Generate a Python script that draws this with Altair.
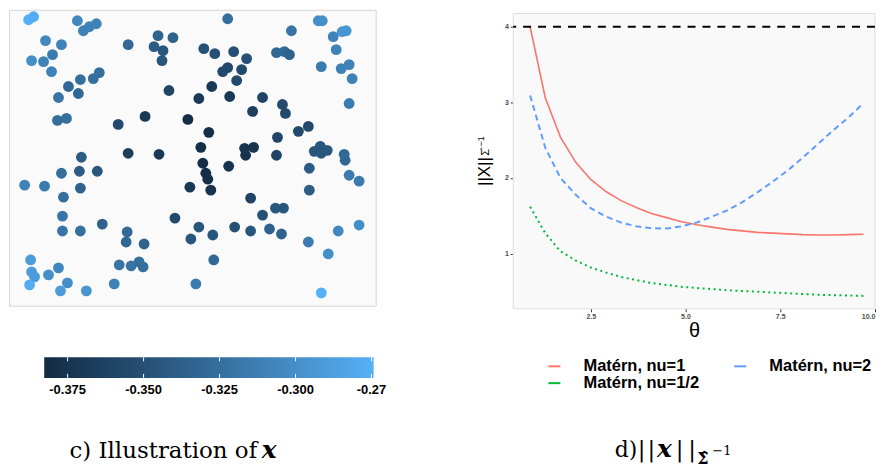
import altair as alt
import pandas as pd

# ---------------- panel c: locations (figure pixels) and value of x ----------------
pt_x = [28, 33, 77, 83, 89, 96, 45, 61, 52, 31, 43, 51, 80, 93, 99, 68, 58, 78, 57, 66,
        128, 158, 154, 163, 162, 173, 228, 204, 215, 234, 247, 223, 228, 242, 237,
        169, 212, 199, 230, 263, 253, 277, 285, 290, 292, 319, 323, 334, 343, 347,
        337, 322, 342, 350, 353, 350, 283, 286, 118, 145, 188, 209, 201, 245, 254, 246,
        278, 299, 309, 277, 315, 321, 328, 322, 345, 346, 128, 159, 203, 206, 208, 229,
        190, 211, 251, 310, 310, 350, 360, 81, 61, 79, 97, 24, 44, 80, 63, 62, 62, 80,
        102, 127, 126, 144, 175, 199, 213, 191, 235, 251, 263, 276, 284, 270, 282, 309,
        339, 360, 329, 214, 119, 131, 139, 143, 114, 196, 86, 322, 30, 31, 34, 29, 48,
        58, 67, 60]
pt_y = [18, 15, 19, 29, 25, 22, 39, 43, 53, 59, 60, 70, 78, 77, 71, 85, 96, 92, 119, 117,
        43, 34, 45, 49, 59, 36, 17, 47, 52, 50, 57, 70, 66, 68, 79,
        89, 85, 97, 95, 96, 110, 51, 50, 53, 29, 19, 19, 35, 30, 29,
        48, 65, 67, 63, 77, 102, 103, 112, 123, 115, 118, 131, 146, 147, 146, 154,
        136, 130, 125, 154, 150, 145, 149, 152, 153, 159, 152, 153, 162, 172, 178, 165,
        186, 189, 197, 167, 189, 174, 180, 156, 172, 170, 170, 184, 185, 187, 196, 215, 230, 230,
        223, 231, 241, 243, 217, 226, 234, 238, 226, 230, 214, 207, 207, 228, 233, 241,
        230, 224, 253, 259, 264, 265, 261, 266, 283, 283, 290, 292, 259, 271, 276, 284, 274,
        267, 282, 290]
pt_val = [-0.276, -0.277, -0.305, -0.31, -0.31, -0.31, -0.305, -0.31, -0.315, -0.30, -0.31,
          -0.31, -0.325, -0.325, -0.325, -0.33, -0.32, -0.33, -0.325, -0.325,
          -0.33, -0.335, -0.34, -0.345, -0.345, -0.335, -0.325, -0.35, -0.35, -0.35, -0.35,
          -0.355, -0.355, -0.355, -0.355,
          -0.36, -0.37, -0.37, -0.37, -0.36, -0.365, -0.33, -0.33, -0.335, -0.32, -0.30, -0.30,
          -0.31, -0.295, -0.295,
          -0.31, -0.315, -0.31, -0.31, -0.31, -0.315, -0.355, -0.355, -0.355, -0.37, -0.38,
          -0.38, -0.38, -0.375, -0.375, -0.375,
          -0.36, -0.355, -0.355, -0.36, -0.345, -0.345, -0.345, -0.345, -0.33, -0.33, -0.365,
          -0.37, -0.38, -0.38, -0.38, -0.375,
          -0.37, -0.375, -0.36, -0.34, -0.34, -0.315, -0.315, -0.34, -0.325, -0.34, -0.345,
          -0.31, -0.315, -0.335, -0.325, -0.32, -0.32, -0.325,
          -0.335, -0.33, -0.33, -0.335, -0.355, -0.345, -0.345, -0.345, -0.35, -0.345, -0.35,
          -0.345, -0.345, -0.335, -0.335, -0.315,
          -0.305, -0.30, -0.30, -0.33, -0.32, -0.32, -0.325, -0.325, -0.31, -0.315, -0.295,
          -0.275, -0.29, -0.29, -0.29, -0.278, -0.30,
          -0.305, -0.30, -0.29]

color_limits = [-0.3827, -0.2743]
color_range = ["#132B43", "#56B1F7"]
bar_ticks = [-0.375, -0.35, -0.325, -0.3, -0.275]
bar_labels = ["-0.375", "-0.350", "-0.325", "-0.300", "-0.27"]

# ---------------- panel d ----------------
theta = [0.9, 1.3, 1.7, 2.1, 2.5, 2.9, 3.3, 3.7, 4.1, 4.5, 4.9, 5.3, 5.7, 6.1, 6.5, 6.9,
         7.3, 7.7, 8.1, 8.5, 8.9, 9.3, 9.7]
nu1 = [4.0, 3.06, 2.54, 2.21, 1.98, 1.82, 1.70, 1.61, 1.53, 1.475, 1.42, 1.38, 1.35, 1.32,
       1.30, 1.28, 1.27, 1.26, 1.25, 1.245, 1.245, 1.25, 1.255]
nu2 = [3.09, 2.40, 2.00, 1.78, 1.60, 1.49, 1.41, 1.36, 1.335, 1.33, 1.36, 1.41, 1.49, 1.57,
       1.68, 1.81, 1.95, 2.10, 2.27, 2.45, 2.63, 2.80, 2.99]
nu_half = [1.62, 1.27, 1.03, 0.91, 0.815, 0.75, 0.69, 0.65, 0.61, 0.585, 0.56, 0.545, 0.53,
           0.515, 0.505, 0.495, 0.485, 0.475, 0.465, 0.455, 0.45, 0.445, 0.44]
series_names = ["Matérn, nu=1", "Matérn, nu=1/2", "Matérn, nu=2"]
series_colors = ["#F8766D", "#00BA38", "#619CFF"]
bound_value = [4]
x_ticks = [2.5, 5.0, 7.5, 10.0]
y_ticks = [1, 2, 3, 4]


# ---------------- colour helper (Lab ramp for the colour bar) ----------------
def _lab_ramp(c0, c1, n=11):
    def to_lin(v):
        v = v / 255
        return v / 12.92 if v <= 0.04045 else ((v + 0.055) / 1.055) ** 2.4

    def from_lin(v):
        v = 12.92 * v if v <= 0.0031308 else 1.055 * v ** (1 / 2.4) - 0.055
        return max(0, min(255, round(v * 255)))

    wn = (0.95047, 1.0, 1.08883)
    d = 6 / 29

    def f(t):
        return t ** (1 / 3) if t > d ** 3 else t / (3 * d * d) + 4 / 29

    def finv(t):
        return t ** 3 if t > d else 3 * d * d * (t - 4 / 29)

    def hex2lab(h):
        r, g, b = (to_lin(int(h[i:i + 2], 16)) for i in (1, 3, 5))
        X = (0.4124 * r + 0.3576 * g + 0.1805 * b) / wn[0]
        Y = (0.2126 * r + 0.7152 * g + 0.0722 * b) / wn[1]
        Z = (0.0193 * r + 0.1192 * g + 0.9505 * b) / wn[2]
        return 116 * f(Y) - 16, 500 * (f(X) - f(Y)), 200 * (f(Y) - f(Z))

    def lab2hex(L, a, b):
        fy = (L + 16) / 116
        X, Y, Z = finv(fy + a / 500) * wn[0], finv(fy) * wn[1], finv(fy - b / 200) * wn[2]
        r = 3.2406 * X - 1.5372 * Y - 0.4986 * Z
        g = -0.9689 * X + 1.8758 * Y + 0.0415 * Z
        bb = 0.0557 * X - 0.2040 * Y + 1.0570 * Z
        return "#%02x%02x%02x" % (from_lin(r), from_lin(g), from_lin(bb))

    l0, l1 = hex2lab(c0), hex2lab(c1)
    out = []
    for i in range(n):
        t = i / (n - 1)
        out.append((t, lab2hex(*[a + (b - a) * t for a, b in zip(l0, l1)])))
    return out


SANS = "Liberation Sans"
SERIF = "DejaVu Serif"


def txt(t, x, y, size, font=SANS, angle=0, align="center", baseline="middle",
        weight="normal", style="normal"):
    return alt.Chart(pd.DataFrame({"t": [t]})).mark_text(
        font=font, fontSize=size, angle=angle, align=align, baseline=baseline,
        fontWeight=weight, fontStyle=style, color="black").encode(
        text="t:N", x=alt.value(x), y=alt.value(y))


# ---------------- panel c: scatter + colour bar ----------------
pts = pd.DataFrame({"px": pt_x, "py": pt_y, "val": pt_val})
scatter = alt.Chart(pts).mark_circle(size=118, opacity=1).encode(
    x=alt.X("px:Q", scale=alt.Scale(domain=[8.3, 376.7], nice=False, zero=False), axis=None),
    y=alt.Y("py:Q", scale=alt.Scale(domain=[8, 305], reverse=True, nice=False, zero=False), axis=None),
    color=alt.Color("val:Q", scale=alt.Scale(domain=color_limits, range=color_range,
                                             interpolate="lab"), legend=None),
)

grad = alt.LinearGradient(
    gradient="linear",
    stops=[alt.GradientStop(color=c, offset=o) for o, c in _lab_ramp(*color_range)],
    x1=0, x2=1, y1=0, y2=0)
bar_scale = alt.Scale(domain=[-0.3943, -0.2736], nice=False, zero=False)
bar_df = pd.DataFrame({"lo": [color_limits[0]], "hi": [color_limits[1]]})
bar_rect = alt.Chart(bar_df).mark_rect(fill=grad).encode(
    x=alt.X("lo:Q", scale=bar_scale, axis=None), x2="hi:Q",
    y=alt.value(348.7), y2=alt.value(369.4))
tick_df = pd.DataFrame({"v": bar_ticks, "lab": bar_labels})
ticks_top = alt.Chart(tick_df).mark_rule(color="white", strokeWidth=1).encode(
    x=alt.X("v:Q", scale=bar_scale, axis=None), y=alt.value(348.7), y2=alt.value(352.7))
ticks_bot = alt.Chart(tick_df).mark_rule(color="white", strokeWidth=1).encode(
    x=alt.X("v:Q", scale=bar_scale, axis=None), y=alt.value(365.4), y2=alt.value(369.4))
bar_text = alt.Chart(tick_df).mark_text(
    font=SANS, fontSize=13, fontWeight="bold", color="black", baseline="middle").encode(
    x=alt.X("v:Q", scale=bar_scale, axis=None), y=alt.value(381.3), text="lab:N")

cap_c = [
    txt("c) Illustration of", 249, 449.3, 23, font=SERIF, align="right", baseline="alphabetic"),
    txt("x", 253.7, 449.3, 25, font=SERIF, align="left", baseline="alphabetic",
        weight="bold", style="italic"),
]

left = alt.layer(scatter, bar_rect, ticks_top, ticks_bot, bar_text, *cap_c).resolve_scale(
    x="independent").properties(
    width=368, height=297, view=alt.ViewBackground(fill="#fafafa", stroke="#d6d6d6"))

# ---------------- panel d: lines ----------------
long = pd.DataFrame({
    "theta": theta * 3,
    "value": nu1 + nu_half + nu2,
    "series": [series_names[0]] * len(theta) + [series_names[1]] * len(theta)
              + [series_names[2]] * len(theta),
})
xs = alt.Scale(domain=[0.455, 10.0], nice=False, zero=False)
ys = alt.Scale(domain=[0.27, 4.2238], nice=False, zero=False)
cs = alt.Scale(domain=series_names, range=series_colors)
x_axis = alt.Axis(values=x_ticks, format=".1f", title="θ",
                  titleFont=SANS, titleFontSize=20, titleFontWeight="normal", titleColor="black",
                  titlePadding=1, labelFont=SANS, labelFontSize=7, labelColor="#4d4d4d",
                  labelFontWeight="bold", tickColor="#333333", tickSize=3, labelPadding=1,
                  domain=False, grid=False, labelFlush=True)
y_axis = alt.Axis(values=y_ticks, format="d", title=None,
                  labelFont=SANS, labelFontSize=7, labelColor="#4d4d4d", labelFontWeight="bold",
                  tickColor="#333333", tickSize=3, labelPadding=2, domain=False, grid=False,
                  labelFlush=False)
legend = alt.Legend(orient="none", legendX=33, legendY=349.4, columns=2, title=None,
                    symbolType="stroke", symbolSize=144, symbolStrokeWidth=2,
                    labelFont=SANS, labelFontSize=16.5, labelFontWeight="bold", labelColor="black",
                    labelOffset=21, columnPadding=30.5, rowPadding=0, padding=0)

# panel background (the plot area starts a few pixels below the group top)
panel = alt.Chart(pd.DataFrame({"x0": [0.455], "x1": [10.0], "y0": [0.27], "y1": [4.175]})).mark_rect(
    fill="#f9f9f9", stroke="#dedede", strokeWidth=1).encode(
    x=alt.X("x0:Q", scale=xs, axis=x_axis), x2="x1:Q",
    y=alt.Y("y0:Q", scale=ys, axis=y_axis), y2="y1:Q")


def line_layer(name, width, dash=None):
    kw = {"strokeWidth": width}
    if dash is not None:
        kw["strokeDash"] = dash
    return alt.Chart(long).transform_filter(alt.datum.series == name).mark_line(**kw).encode(
        x=alt.X("theta:Q", scale=xs, axis=x_axis),
        y=alt.Y("value:Q", scale=ys, axis=y_axis),
        color=alt.Color("series:N", scale=cs, legend=legend),
    )


red = line_layer(series_names[0], 1.6)
green = line_layer(series_names[1], 2, [2, 3.5])
blue = line_layer(series_names[2], 2, [6, 4])
hline = alt.Chart(pd.DataFrame({"b": bound_value})).mark_rule(
    color="black", strokeWidth=2, strokeDash=[8, 7]).encode(
    y=alt.Y("b:Q", scale=ys, axis=y_axis))

ytitle = [
    txt("||X||", -28, 162.3, 17, angle=270),
    txt("Σ\u0302", -27.5, 143, 11, angle=270),
    txt("\u22121", -32.3, 132, 9, angle=270),
]
cap_d = [
    txt("d)", 124.6, 448.7, 22, font=SERIF, align="right", baseline="alphabetic"),
    txt("|", 128.7, 448.7, 23, font=SERIF, baseline="alphabetic"),
    txt("|", 138.5, 448.7, 23, font=SERIF, baseline="alphabetic"),
    txt("x", 151.8, 448.7, 25, font=SERIF, baseline="alphabetic", weight="bold", style="italic"),
    txt("|", 167, 448.7, 23, font=SERIF, baseline="alphabetic"),
    txt("|", 179.5, 448.7, 23, font=SERIF, baseline="alphabetic"),
    txt("Σ\u0302", 190.2, 455.3, 16, font=SERIF, baseline="alphabetic", weight="bold"),
    txt("\u22121", 209.3, 447, 13, font=SERIF, baseline="alphabetic"),
]

right = alt.layer(panel, red, green, blue, hline, *ytitle, *cap_d).properties(
    width=362.9, height=300, view=alt.ViewBackground(stroke="transparent"))

chart = alt.hconcat(left, right, spacing=138, bounds="flush").resolve_scale(
    color="independent").properties(padding=0).configure(background="white")

chart.save("out.html", embed_options={"renderer": "svg", "actions": False})
